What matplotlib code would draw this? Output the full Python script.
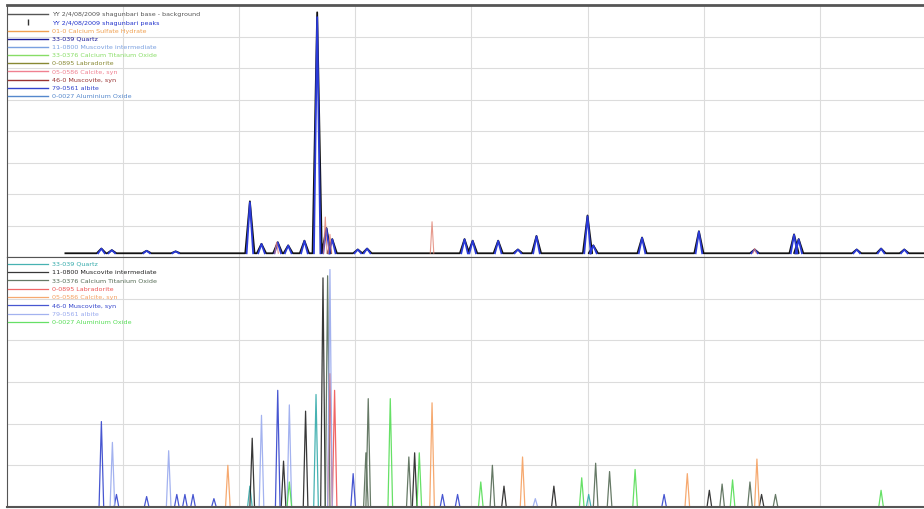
import numpy as np
import matplotlib
matplotlib.use("Agg")
import matplotlib.pyplot as plt
from matplotlib.lines import Line2D

# ---- data (2-theta in degrees, intensity in grid units) ----
# top panel: measured pattern
obs_pos = [8.1, 9.0, 12.0, 14.5, 20.9, 21.9, 23.3, 24.2, 25.6, 26.7, 27.5, 28.0,
           30.2, 31.0, 39.4, 40.1, 42.3, 44.0, 45.6, 50.0, 50.5, 54.7, 59.6,
           64.4, 67.8, 68.2, 73.2, 75.3, 77.3]
obs_int = [0.15, 0.10, 0.08, 0.06, 1.65, 0.30, 0.35, 0.25, 0.40, 7.65, 0.80, 0.45,
           0.12, 0.15, 0.45, 0.40, 0.40, 0.12, 0.55, 1.20, 0.25, 0.50, 0.70,
           0.12, 0.60, 0.45, 0.12, 0.15, 0.12]
obs_base = 0.12
obs_start, obs_end = 5.0, 79.0

# top panel: faint reference sticks drawn over the pattern
top_ref_pos = [23.2, 27.4, 27.8, 36.6, 64.4]
top_ref_int = [0.35, 1.15, 0.6, 1.0, 0.15]

top_labels = [
    "YY 2/4/08/2009 shagunbari base - background",
    "YY 2/4/08/2009 shagunbari peaks",
    "01-0 Calcium Sulfate Hydrate",
    "33-039 Quartz",
    "11-0800 Muscovite intermediate",
    "33-0376 Calcium Titanium Oxide",
    "0-0895 Labradorite",
    "05-0586 Calcite, syn",
    "46-0 Muscovite, syn",
    "79-0561 albite",
    "0-0027 Aluminium Oxide",
]
top_colors = ["#555555", "#2233cc", "#f0a050", "#1a1a99", "#7aa0e0", "#88dd66",
              "#888833", "#f08090", "#993333", "#3344cc", "#5588cc"]

# bottom panel: reference phase patterns
phases = {
    "33-039 Quartz": ([26.6, 20.9, 50.1], [2.7, 0.5, 0.3]),
    "11-0800 Muscovite intermediate": ([21.1, 23.8, 25.7, 27.2, 35.1, 42.8, 47.1, 60.5, 65.0],
                                       [1.65, 1.1, 2.3, 5.5, 1.3, 0.5, 0.5, 0.4, 0.3]),
    "33-0376 Calcium Titanium Oxide": ([27.6, 30.9, 31.1, 34.6, 41.8, 50.7, 51.9, 61.6, 64.0, 66.2],
                                       [5.55, 1.3, 2.6, 1.2, 1.0, 1.05, 0.85, 0.55, 0.6, 0.3]),
    "0-0895 Labradorite": ([27.8, 28.2], [3.2, 2.8]),
    "05-0586 Calcite, syn": ([19.0, 36.6, 44.4, 58.6, 64.6], [1.0, 2.5, 1.2, 0.8, 1.15]),
    "46-0 Muscovite, syn": ([8.1, 9.4, 12.0, 14.6, 15.3, 16.0, 17.8, 23.3, 29.8, 37.5, 38.8, 56.6],
                            [2.05, 0.3, 0.25, 0.3, 0.3, 0.3, 0.2, 2.8, 0.8, 0.3, 0.3, 0.3]),
    "79-0561 albite": ([9.05, 13.9, 21.9, 24.3, 27.8, 45.5], [1.55, 1.35, 2.2, 2.45, 5.7, 0.2]),
    "0-0027 Aluminium Oxide": ([24.3, 33.0, 35.5, 40.8, 49.5, 54.1, 62.5, 75.3],
                               [0.6, 2.6, 1.3, 0.6, 0.7, 0.9, 0.65, 0.4]),
}
bot_colors = ["#33aaaa", "#222222", "#556b55", "#ee5555", "#f5a060", "#3344cc",
              "#99aaee", "#55dd55"]

PEAK_W = 0.2


def profile(pos, inten, base=0.0, start=None, end=None, w=PEAK_W, split=False):
    xs, ys = [], []
    if start is not None:
        xs.append(start); ys.append(base)
    for p, h in sorted(zip(pos, inten)):
        xs += [p - w, p, p + w]
        ys += [base, base + h, base]
        if split:
            xs.append(np.nan); ys.append(np.nan)
    if end is not None:
        xs.append(end); ys.append(base)
    return xs, ys


fig = plt.figure(figsize=(9.24, 5.09), dpi=100)
ax1 = fig.add_axes([0.008, 0.495, 0.992, 0.495])
ax2 = fig.add_axes([0.008, 0.004, 0.992, 0.491])

for ax, ymax in [(ax1, 8), (ax2, 6)]:
    ax.set_xlim(0, 79)
    ax.set_ylim(0, ymax)
    ax.set_xticks(range(10, 80, 10))
    ax.set_yticks(range(1, ymax))
    ax.grid(True, color="#dcdcdc", linewidth=0.8)
    ax.tick_params(axis="both", length=0, labelleft=False, labelbottom=False)
    for s in ["left", "top", "bottom"]:
        ax.spines[s].set_color("#555555")
    ax.spines["right"].set_visible(False)
    ax.set_axisbelow(True)
ax1.spines["top"].set_linewidth(2)
ax2.spines["bottom"].set_linewidth(1.5)

# top panel: black raw trace under the blue peak trace
xs, ys = profile(obs_pos, obs_int, obs_base, obs_start, obs_end, w=0.4)
ax1.plot(xs, ys, color="#111111", linewidth=1.3)
xs, ys = profile(obs_pos, [v * 0.98 for v in obs_int], obs_base, w=0.28, split=True)
ax1.plot(xs, ys, color="#2a3ad8", linewidth=1.3)
xs, ys = profile(top_ref_pos, top_ref_int, obs_base, w=0.15, split=True)
ax1.plot(xs, ys, color="#e08070", linewidth=0.8, alpha=0.8)

handles = []
for i, (lab, c) in enumerate(zip(top_labels, top_colors)):
    if i == 1:
        h = Line2D([], [], color=c, linestyle="none", marker="|", markersize=5,
                   markeredgecolor="#333333")
    else:
        h = Line2D([], [], color=c, linewidth=1)
    handles.append(h)
ax1.legend(handles, top_labels, loc="upper left", bbox_to_anchor=(0.0, 0.975),
           frameon=False, fontsize=4.6, handlelength=6.3, handletextpad=0.6,
           labelspacing=0.42, borderaxespad=0, borderpad=0.1, labelcolor=top_colors)

# bottom panel
for (name, (pos, inten)), c in zip(phases.items(), bot_colors):
    xs, ys = profile(pos, inten, 0.0, 0.0, 79.0)
    ax2.plot(xs, ys, color=c, linewidth=0.9, label=name, alpha=0.9)
ax2.legend(loc="upper left", bbox_to_anchor=(0.0, 0.985), frameon=False, fontsize=4.6,
           handlelength=6.3, handletextpad=0.6, labelspacing=0.45, borderaxespad=0,
           borderpad=0.1, labelcolor="linecolor")

fig.savefig("out.png", dpi=100)
